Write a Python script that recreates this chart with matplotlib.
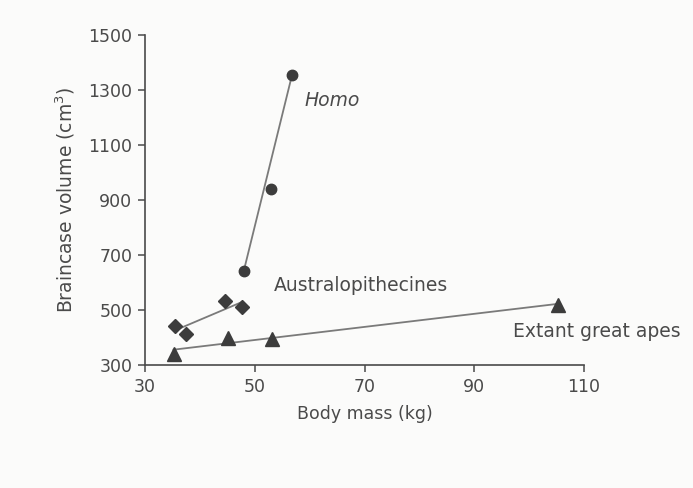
import numpy as np
import matplotlib
matplotlib.use("Agg")
import matplotlib.pyplot as plt

# values
homo_mass = [48.0, 53.0, 56.8]
homo_brain = [642, 940, 1355]

austr_mass = [35.4, 37.4, 44.6, 47.7]
austr_brain = [443, 412, 533, 512]

apes_mass = [35.2, 45.2, 53.2, 105.2]
apes_brain = [340, 400, 396, 520]

x_ticks = [30, 50, 70, 90, 110]
y_ticks = [300, 500, 700, 900, 1100, 1300, 1500]

ink = "#4a4a4a"
mark = "#3c3c3c"
line_c = "#7a7a7a"

plt.rcParams['font.family'] = ['DejaVu Sans']

fig = plt.figure(figsize=(6.93, 4.88), dpi=100)
fig.patch.set_facecolor("#fbfbfa")
ax = fig.add_axes([145 / 693, 123 / 488, 439 / 693, 330 / 488])
ax.set_facecolor("#fbfbfa")


def fit_line(xs, ys):
    # least squares line drawn over the range of the points
    k, b = np.polyfit(xs, ys, 1)
    xx = np.array([min(xs), max(xs)])
    return xx, k * xx + b


# Homo: line runs from the smallest to the largest form
ax.plot([homo_mass[0], homo_mass[-1]], [homo_brain[0], homo_brain[-1]],
        color=line_c, lw=1.3, zorder=2)
xx, yy = fit_line(austr_mass, austr_brain)
ax.plot(xx, yy, color=line_c, lw=1.3, zorder=2)
xx, yy = fit_line(apes_mass, apes_brain)
ax.plot(xx, yy, color=line_c, lw=1.3, zorder=2)

ax.plot(homo_mass, homo_brain, 'o', color=mark, ms=7.5, ls='none', zorder=3)
ax.plot(austr_mass, austr_brain, 'D', color=mark, ms=7.5, ls='none', zorder=3)
ax.plot(apes_mass, apes_brain, '^', color=mark, ms=10, ls='none', zorder=3)

ax.text(59.0, 1263, "Homo", style='italic', fontsize=13.5, color=ink, va='center')
ax.text(53.5, 588, "Australopithecines", fontsize=13.5, color=ink, va='center')
ax.text(97.0, 423, "Extant great apes", fontsize=13.5, color=ink, va='center')

ax.set_xlim(30, 110)
ax.set_ylim(300, 1500)
ax.set_xticks(x_ticks)
ax.set_yticks(y_ticks)
ax.tick_params(colors=ink, labelsize=12.5, length=5, width=1.1, direction='out', pad=4)
for s in ['top', 'right']:
    ax.spines[s].set_visible(False)
for s in ['left', 'bottom']:
    ax.spines[s].set_color(ink)
    ax.spines[s].set_linewidth(1.2)

ax.set_xlabel("Body mass (kg)", fontsize=12.5, color=ink, labelpad=7)
ax.set_ylabel("Braincase volume (cm$^3$)", fontsize=13.5, color=ink, labelpad=8)

fig.savefig("out.png", dpi=100, facecolor=fig.get_facecolor())
